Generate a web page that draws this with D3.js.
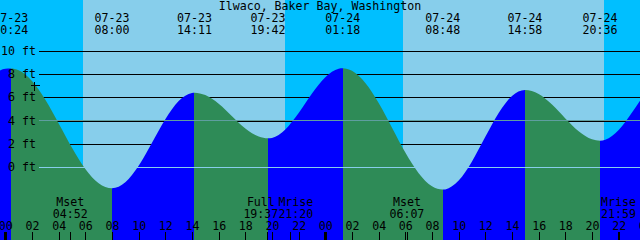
<!DOCTYPE html>
<html>
<head>
<meta charset="utf-8">
<script src="https://cdn.jsdelivr.net/npm/d3@7"></script>
<style>
  body { margin: 0; background: #fff; }
  svg { display: block; }
  text { font-family: "DejaVu Sans Mono", monospace; font-size: 11.6px; fill: #000; }
</style>
</head>
<body>
<div class="chart"></div>
<script>
// tide graph, Ilwaco / Baker Bay, two days
const stationName = "Ilwaco, Baker Bay, Washington";

// high / low water
const extremeDates = ["07-23", "07-23", "07-23", "07-23", "07-24", "07-24", "07-24", "07-24"];
const extremeTimes = ["00:24", "08:00", "14:11", "19:42", "01:18", "08:48", "14:58", "20:36"];
const extremeFeet = [8.5, -1.84, 6.41, 2.47, 8.51, -1.95, 6.64, 2.27];

// hourly heights, from 07-22 23:00 (hour -1) to 07-25 00:00 (hour 48)
const hourlyStart = -1;
const hourlyFeet = [7.9, 8.47, 8.34, 7.41, 5.79, 3.75, 1.66, -0.17, -1.4, -1.84,
  -1.32, 0.11, 2.09, 4.12, 5.69, 6.39, 6.2, 5.45, 4.38, 3.32,
  2.63, 2.51, 3.24, 4.65, 6.33, 7.74, 8.47, 8.29, 7.24, 5.51,
  3.39, 1.25, -0.53, -1.67, -1.93, -1.17, 0.48, 2.6, 4.66, 6.13,
  6.64, 6.29, 5.38, 4.19, 3.09, 2.39, 2.35, 3.18, 4.69, 6.41];

const sunDates = ["07-23", "07-23", "07-24", "07-24"];
const sunTimes = ["05:48", "20:59", "05:49", "20:56"];
const sunKinds = ["rise", "set", "rise", "set"];

const moonNames = ["Mset", "Full", "Mrise", "Mset", "Mrise"];
const moonDates = ["07-23", "07-23", "07-23", "07-24", "07-24"];
const moonTimes = ["04:52", "19:37", "21:20", "06:07", "21:59"];

const feetTicks = [0, 2, 4, 6, 8, 10];
const datumFeet = 0;
const mslFeet = 4.05;
const nowDate = "07-23", nowTime = "02:11", nowFeet = 7.07;

const W = 640, H = 240;
const nightColor = "#00bfff", dayColor = "#87ceeb";
const floodColor = "#0000ff", ebbColor = "#2e8b57";

var parseTime = d3.timeParse("%m-%d %H:%M");
function at(d, t) { return parseTime(d + " " + t); }

var x = d3.scaleTime()
  .domain([at("07-22", "23:36"), at("07-24", "23:36")])
  .range([0, W]);
var y = d3.scaleLinear().domain([0, 10]).range([167, 51]);
function row(v) { return Math.round(y(v)) + 0.5; }

var svg = d3.select(".chart").append("svg")
  .attr("width", W)
  .attr("height", H);

// day / night background
var sunEvents = sunTimes.map((t, i) => at(sunDates[i], t));
var sunEdges = [x.domain()[0]].concat(sunEvents, [x.domain()[1]]);
svg.append("g").selectAll("rect")
  .data(d3.pairs(sunEdges))
  .join("rect")
  .attr("x", d => x(d[0]))
  .attr("width", d => x(d[1]) - x(d[0]))
  .attr("y", 0)
  .attr("height", H)
  .attr("shape-rendering", "crispEdges")
  .attr("fill", (d, i) => {
    if (i == 0) return sunKinds[0] == "rise" ? nightColor : dayColor;
    return sunKinds[i - 1] == "rise" ? dayColor : nightColor;
  });

// grid lines sit under the water
svg.append("g").selectAll("line")
  .data(feetTicks)
  .join("line")
  .attr("x1", 39)
  .attr("x2", W)
  .attr("y1", d => row(d))
  .attr("y2", d => row(d))
  .attr("stroke", "#000")
  .attr("shape-rendering", "crispEdges");

// tide curve
var base = at("07-23", "00:00");
var extremeAt = extremeTimes.map((t, i) => at(extremeDates[i], t));
var points = hourlyFeet.map((ft, i) => ({ t: d3.timeMinute.offset(base, (hourlyStart + i) * 60), ft: ft }))
  .filter(p => !extremeAt.some(e => Math.abs(e - p.t) < 6 * 60000))
  .concat(extremeAt.map((t, i) => ({ t: t, ft: extremeFeet[i] })))
  .sort((a, b) => a.t - b.t);

var area = d3.area()
  .x(d => x(d.t))
  .y0(H)
  .y1(d => y(d.ft))
  .curve(d3.curveMonotoneX);

svg.append("clipPath").attr("id", "water")
  .append("path")
  .attr("d", area(points));

var tideEdges = [x.domain()[0]].concat(extremeAt, [x.domain()[1]]);
svg.append("g").attr("clip-path", "url(#water)")
  .selectAll("rect")
  .data(d3.pairs(tideEdges))
  .join("rect")
  .attr("x", d => x(d[0]))
  .attr("width", d => x(d[1]) - x(d[0]))
  .attr("y", 0)
  .attr("height", H)
  .attr("shape-rendering", "crispEdges")
  .attr("fill", (d, i) => {
    var n = extremeFeet.length;
    var rising;
    if (i == 0) rising = extremeFeet[0] > extremeFeet[1];
    else if (i >= n) rising = extremeFeet[n - 1] < extremeFeet[n - 2];
    else rising = extremeFeet[i] > extremeFeet[i - 1];
    return rising ? floodColor : ebbColor;
  });

// datum and mean sea level over everything
svg.append("line")
  .attr("x1", 39).attr("x2", W)
  .attr("y1", row(datumFeet)).attr("y2", row(datumFeet))
  .attr("stroke", "#87ceeb")
  .attr("shape-rendering", "crispEdges");
svg.append("line")
  .attr("x1", 39).attr("x2", W)
  .attr("y1", Math.round(y(mslFeet)) + 0.5).attr("y2", Math.round(y(mslFeet)) + 0.5)
  .attr("stroke", "#5f9ea0")
  .attr("shape-rendering", "crispEdges");

// height labels
svg.append("g").selectAll("text")
  .data(feetTicks)
  .join("text")
  .attr("x", 36)
  .attr("y", d => Math.round(y(d)) + 4)
  .attr("text-anchor", "end")
  .text(d => d + " ft");

// title and high/low labels
svg.append("text")
  .attr("x", W / 2)
  .attr("y", 9.8)
  .attr("text-anchor", "middle")
  .text(stationName);

var extremeLabels = svg.append("g").selectAll("g")
  .data(extremeAt)
  .join("g")
  .attr("transform", d => "translate(" + x(d) + ",0)");
extremeLabels.append("text")
  .attr("y", 21.8)
  .attr("text-anchor", "middle")
  .text((d, i) => extremeDates[i]);
extremeLabels.append("text")
  .attr("y", 33.5)
  .attr("text-anchor", "middle")
  .text((d, i) => extremeTimes[i]);

// hour axis along the bottom
var hourTicks = d3.timeHour.every(2).range(x.domain()[0], d3.timeHour.offset(x.domain()[1], 1));
var gAxis = svg.append("g")
  .attr("transform", "translate(0," + H + ")")
  .call(d3.axisTop(x)
    .tickValues(hourTicks)
    .tickFormat(d3.timeFormat("%H"))
    .tickSize(8)
    .tickPadding(2));
gAxis.select(".domain").remove();
gAxis.selectAll(".tick line")
  .attr("shape-rendering", "crispEdges")
  .filter(d => d.getHours() == 0)
  .attr("stroke-width", 3);

// moon events, pushed apart when their labels would overlap
var moonAt = moonTimes.map((t, i) => at(moonDates[i], t));
var labelW = 35;
var moonX = moonAt.map(d => x(d));
for (let i = 0; i < moonX.length - 1; i++) {
  let gap = moonX[i + 1] - moonX[i];
  if (gap < labelW) {
    moonX[i] -= (labelW - gap) / 2;
    moonX[i + 1] += (labelW - gap) / 2;
  }
}
svg.append("g").selectAll("line")
  .data(moonAt)
  .join("line")
  .attr("x1", d => Math.round(x(d)) + 0.5)
  .attr("x2", d => Math.round(x(d)) + 0.5)
  .attr("y1", H - 8)
  .attr("y2", H)
  .attr("stroke", "#000")
  .attr("shape-rendering", "crispEdges");
var moonLabels = svg.append("g").selectAll("g")
  .data(moonX)
  .join("g")
  .attr("transform", d => "translate(" + d + ",0)");
moonLabels.append("text")
  .attr("y", 206.3)
  .attr("text-anchor", "middle")
  .text((d, i) => moonNames[i]);
moonLabels.append("text")
  .attr("y", 218.3)
  .attr("text-anchor", "middle")
  .text((d, i) => moonTimes[i]);

// current time mark
var nx = Math.round(x(at(nowDate, nowTime))) + 0.5;
var ny = Math.round(y(nowFeet)) + 0.5;
svg.append("path")
  .attr("d", "M" + (nx - 4) + "," + ny + "H" + (nx + 5) + "M" + nx + "," + (ny - 4) + "V" + (ny + 5))
  .attr("stroke", "#000")
  .attr("shape-rendering", "crispEdges");
</script>
</body>
</html>
